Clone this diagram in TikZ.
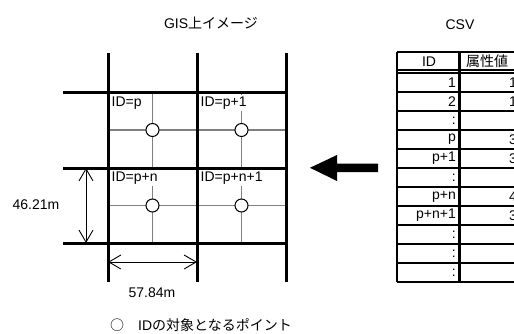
\documentclass[tikz,border=0pt]{standalone}
\usepackage{fontspec}
\setmainfont{Liberation Sans}
\newfontfamily\jp{Noto Sans CJK JP}
\usetikzlibrary{arrows.meta}
\begin{document}
\begin{tikzpicture}[x=1pt,y=-1pt,
  thickline/.style={line width=3pt},
  greyline/.style={line width=1.6pt, draw=black!50},
  ptc/.style={circle, draw, fill=white, line width=1pt, minimum size=13pt, inner sep=0pt},
  celllabel/.style={anchor=north west, fill=white, inner sep=2pt, font=\fontsize{14}{16}\selectfont},
  txt/.style={font=\fontsize{14}{16}\selectfont, inner sep=0pt},
  dimline/.style={line width=0.9pt, {Straight Barb[length=12pt,width=14pt]}-{Straight Barb[length=12pt,width=14pt]}},
  tabline/.style={line width=1.8pt},
  idtxt/.style={txt, anchor=east},
]
\useasboundingbox (0,0) rectangle (514,334);
\clip (0,0) rectangle (514,334);

% titles
\node[txt] (title1) at (211,23) {GIS{\jp 上イメージ}};
\node[txt] (title2) at (460,25) {CSV};

% grey inner lines
\foreach \yy in {130,205.5} \draw[greyline] (108,\yy) -- (286,\yy);
\foreach \xx in {152.5,241.5} {
  \draw[greyline] (\xx,93) -- (\xx,168);
  \draw[greyline] (\xx,168) -- (\xx,243);
}

% cell labels
\node[celllabel] (lp) at (109.5,94.5) {ID=p};
\node[celllabel] (lp1) at (198.5,94.5) {ID=p+1};
\node[celllabel] (lpn) at (109.5,169.5) {ID=p+n};
\node[celllabel] (lpn1) at (198.5,169.5) {ID=p+n+1};

% thick grid
\foreach \xx in {108,197,286} \draw[thickline] (\xx,53) -- (\xx,282);
\foreach \yy in {93,168,243} \draw[thickline] (63,\yy) -- (287.5,\yy);

% points
\node[ptc] (c1) at (152.5,130) {};
\node[ptc] (c2) at (241.5,130) {};
\node[ptc] (c3) at (152.5,205.5) {};
\node[ptc] (c4) at (241.5,205.5) {};

% dimensions
\coordinate (v1) at (86,168);
\coordinate (v2) at (86,243);
\coordinate (h1) at (108,262);
\coordinate (h2) at (197,262);
\draw[dimline] (v1) -- (v2);
\draw[dimline] (h1) -- (h2);
\node[txt] (dimv) at (36,205) {46.21m};
\node[txt] (dimh) at (152,293) {57.84m};

% big arrow
\fill (378,163.5) -- (337,163.5) -- (337,155) -- (310,167.8) -- (337,181) -- (337,172) -- (378,172) -- cycle;

% table
\draw[line width=2pt] (397,52) -- (514,52);
\draw[line width=2pt] (397,52) -- (397,282);
\draw[line width=1.2pt] (397,70) -- (514,70);
\draw[line width=1.2pt] (397,73) -- (514,73);
\foreach \i in {1,...,11} \draw[tabline] (397,73+19*\i) -- (514,73+19*\i);
\draw[line width=3pt] (459,52) -- (459,282);

\node[txt] (hid) at (429,61.5) {ID};
\node[txt, anchor=west] (hval) at (466,61.5) {\jp 属性値};

\node[idtxt] (r1) at (456,82.5) {1};
\node[idtxt] (r2) at (456,101.5) {2};
\node[idtxt] (r3) at (456,120.5) {:};
\node[idtxt] (r4) at (456,139.5) {p};
\node[idtxt] (r5) at (456,158.5) {p+1};
\node[idtxt] (r6) at (456,177.5) {:};
\node[idtxt] (r7) at (456,196.5) {p+n};
\node[idtxt] (r8) at (456,215.5) {p+n+1};
\node[idtxt] (r9) at (456,234.5) {:};
\node[idtxt] (r10) at (456,253.5) {:};
\node[idtxt] (r11) at (456,272.5) {:};

\node[idtxt] (v1t) at (517,82.5) {1};
\node[idtxt] (v2t) at (517,101.5) {1};
\node[idtxt] (v4t) at (517,139.5) {3};
\node[idtxt] (v5t) at (517,158.5) {3};
\node[idtxt] (v7t) at (517,196.5) {4};
\node[idtxt] (v8t) at (517,215.5) {3};

% legend
\node[txt, anchor=west] (legend) at (110,325) {{\jp ○}\hspace{14pt}ID{\jp の対象となるポイント}};
\end{tikzpicture}
\end{document}
